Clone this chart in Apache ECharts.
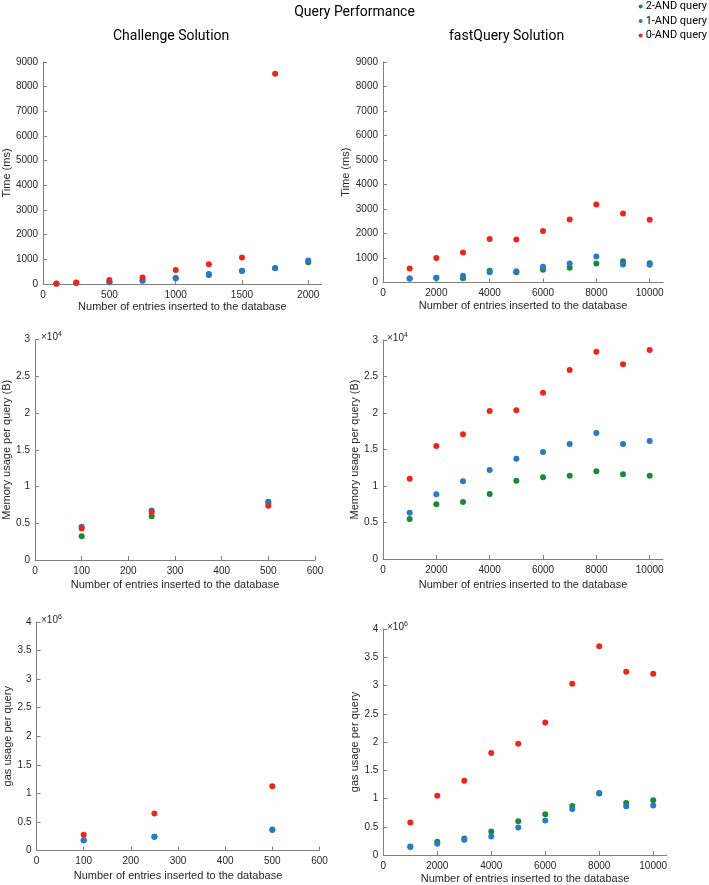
<!DOCTYPE html>
<html>
<head>
<meta charset="utf-8">
<script src="https://cdn.jsdelivr.net/npm/echarts@6/dist/echarts.min.js"></script>
<style>
html,body{margin:0;padding:0;background:#fff;}
#chart{width:709px;height:885px;}
</style>
</head>
<body>
<div id="chart"></div>
<script>
// ---------- data ----------
const seriesNames = ['2-AND query', '1-AND query', '0-AND query'];
const seriesColors = ['#1b8a36', '#2a78c6', '#e8281e'];

// Challenge Solution x values
const xChallengeTime = [100, 250, 500, 750, 1000, 1250, 1500, 1750, 2000];
const xChallengeOther = [100, 250, 500];
// fastQuery Solution x values
const xFast = [1000, 2000, 3000, 4000, 5000, 6000, 7000, 8000, 9000, 10000];

// Time (ms) - Challenge
const chTime2 = [10, 40, 70, 130, 230, 365, 530, 640, 880];
const chTime1 = [10, 50, 80, 150, 245, 405, 540, 650, 950];
const chTime0 = [20, 60, 160, 260, 570, 800, 1070, 8525, null];
// Time (ms) - fastQuery
const fqTime2 = [160, 180, 177, 477, 422, 518, 600, 777, 872, 790];
const fqTime1 = [163, 190, 272, 422, 463, 640, 777, 1063, 736, 722];
const fqTime0 = [572, 995, 1226, 1771, 1757, 2098, 2575, 3188, 2820, 2561];

// Memory (B) - Challenge
const chMem2 = [3220, 5940, 7930];
const chMem1 = [4530, 6750, 7750];
const chMem0 = [4300, 6520, 7390];
// Memory (B) - fastQuery
const fqMem2 = [5480, 7490, 7810, 8900, 10730, 11190, 11420, 12010, 11600, 11420];
const fqMem1 = [6350, 8860, 10640, 12190, 13740, 14660, 15750, 17260, 15750, 16160];
const fqMem0 = [11000, 15480, 17080, 20270, 20370, 22790, 25890, 28400, 26670, 28630];

// Gas - Challenge
const chGas2 = [180000, 240000, 368000];
const chGas1 = [181000, 240000, 357000];
const chGas0 = [275000, 649000, 1123000];
// Gas - fastQuery
const fqGas2 = [152000, 235000, 293000, 416000, 598000, 721000, 868000, 1090000, 921000, 968000];
const fqGas1 = [141000, 199000, 270000, 328000, 487000, 610000, 815000, 1097000, 862000, 874000];
const fqGas0 = [575000, 1050000, 1314000, 1806000, 1971000, 2346000, 3032000, 3695000, 3243000, 3208000];

// tick values
const xTicksChTime = [0, 500, 1000, 1500, 2000];
const xTicksChOther = [0, 100, 200, 300, 400, 500, 600];
const xTicksFast = [0, 2000, 4000, 6000, 8000, 10000];
const yTicksTime = [0, 1000, 2000, 3000, 4000, 5000, 6000, 7000, 8000, 9000];
const yTicksMem = [0, 5000, 10000, 15000, 20000, 25000, 30000];
const yTicksGas = [0, 500000, 1000000, 1500000, 2000000, 2500000, 3000000, 3500000, 4000000];

const xName = 'Number of entries inserted to the database';

// ---------- layout ----------
const panels = [
  {grid:{left:42, top:62, width:279.5, height:222}, x:xChallengeTime, ys:[chTime2,chTime1,chTime0], xMax:2100, xTicks:xTicksChTime, yTicks:yTicksTime, yScale:1, yName:'Time (ms)', xGap:17, yGap:31},
  {grid:{left:383, top:62, width:280, height:220.5}, x:xFast, ys:[fqTime2,fqTime1,fqTime0], xMax:10500, xTicks:xTicksFast, yTicks:yTicksTime, yScale:1, yName:'Time (ms)', xGap:18, yGap:23},
  {grid:{left:35, top:339.5, width:280, height:220.5}, x:xChallengeOther, ys:[chMem2,chMem1,chMem0], xMax:600, xTicks:xTicksChOther, yTicks:yTicksMem, yScale:1e4, yName:'Memory usage per query (B)', xGap:19, yGap:21},
  {grid:{left:383, top:340, width:280, height:219}, x:xFast, ys:[fqMem2,fqMem1,fqMem0], xMax:10500, xTicks:xTicksFast, yTicks:yTicksMem, yScale:1e4, yName:'Memory usage per query (B)', xGap:20, yGap:22},
  {grid:{left:36.5, top:622, width:283, height:228.5}, x:xChallengeOther, ys:[chGas2,chGas1,chGas0], xMax:600, xTicks:xTicksChOther, yTicks:yTicksGas, yScale:1e6, yName:'gas usage per query', xGap:20, yGap:21},
  {grid:{left:383.3, top:629, width:283.4, height:227.5}, x:xFast, ys:[fqGas2,fqGas1,fqGas0], xMax:10500, xTicks:xTicksFast, yTicks:yTicksGas, yScale:1e6, yName:'gas usage per query', xGap:18, yGap:21}
];

const tickFont = "'Liberation Sans', Arial, Helvetica, sans-serif";
const titleFont = "Roboto, 'Liberation Sans Narrow', sans-serif";
const axisColor = '#7f7f7f';
const labelColor = '#262626';

const grids = [], xAxes = [], yAxes = [], series = [];
panels.forEach((p, i) => {
  grids.push(Object.assign({containLabel:false}, p.grid));
  xAxes.push({
    type:'value', gridIndex:i, min:0, max:p.xMax, interval:p.xTicks[1]-p.xTicks[0],
    name:xName, nameLocation:'middle', nameGap:p.xGap,
    nameTextStyle:{fontFamily:tickFont, fontSize:11, color:labelColor},
    axisLine:{show:true, onZero:false, lineStyle:{color:axisColor, width:1}},
    axisTick:{show:true, inside:true, length:4, lineStyle:{color:axisColor}, customValues:p.xTicks},
    axisLabel:{fontFamily:tickFont, fontSize:10, color:labelColor, margin:6, customValues:p.xTicks,
      formatter:(v)=>String(v)},
    splitLine:{show:false}
  });
  yAxes.push({
    type:'value', gridIndex:i, min:0, max:p.yTicks[p.yTicks.length-1], interval:p.yTicks[1]-p.yTicks[0],
    name:p.yName, nameLocation:'middle', nameGap:p.yGap,
    nameTextStyle:{fontFamily:tickFont, fontSize:11, color:labelColor},
    axisLine:{show:true, onZero:false, lineStyle:{color:axisColor, width:1}},
    axisTick:{show:true, inside:true, length:4, lineStyle:{color:axisColor}},
    axisLabel:{fontFamily:tickFont, fontSize:10, color:labelColor, margin:5,
      formatter:(v)=>{ return String(+(v/p.yScale).toFixed(3)); }},
    splitLine:{show:false}
  });
  p.ys.forEach((ys, k) => {
    series.push({
      type:'scatter', name:seriesNames[k], xAxisIndex:i, yAxisIndex:i,
      data:p.x.map((xv, j) => ys[j] == null ? null : [xv, ys[j]]).filter(d => d),
      symbol:'circle', symbolSize:6,
      itemStyle:{color:seriesColors[k], opacity:1},
      emphasis:{disabled:true}, z:2+k
    });
  });
});

const expRich = {
  a:{fontFamily:tickFont, fontSize:10, fontWeight:'normal', color:labelColor},
  b:{fontFamily:tickFont, fontSize:7, fontWeight:'normal', color:labelColor, verticalAlign:'top', padding:[0,0,6,0]}
};

const option = {
  backgroundColor:'#fff',
  animation:false,
  title:[
    {text:'Query Performance', left:'center', top:0, textStyle:{fontFamily:titleFont, fontSize:14, fontWeight:'normal', color:'#000'}},
    {text:'Challenge Solution', left:108, top:24, textStyle:{fontFamily:titleFont, fontSize:14, fontWeight:'normal', color:'#000'}},
    {text:'fastQuery Solution', left:444, top:24, textStyle:{fontFamily:titleFont, fontSize:14, fontWeight:'normal', color:'#000'}},
    {text:'{a|×10}{b|4}', left:36, top:326, textStyle:{fontWeight:'normal', rich:expRich}},
    {text:'{a|×10}{b|4}', left:382, top:327, textStyle:{fontWeight:'normal', rich:expRich}},
    {text:'{a|×10}{b|6}', left:36, top:609, textStyle:{fontWeight:'normal', rich:expRich}},
    {text:'{a|×10}{b|6}', left:382, top:616, textStyle:{fontWeight:'normal', rich:expRich}}
  ],
  legend:{
    data:seriesNames, orient:'vertical', right:2, top:1, padding:0,
    icon:'circle', itemWidth:4, itemHeight:4, itemGap:3.5,
    textStyle:{fontFamily:titleFont, fontSize:11, color:'#000', padding:[0,0,0,-2]},
    selectedMode:false
  },
  grid:grids, xAxis:xAxes, yAxis:yAxes, series:series
};

const chart = echarts.init(document.getElementById('chart'), null, {renderer:'canvas'});
chart.setOption(option);
</script>
</body>
</html>
